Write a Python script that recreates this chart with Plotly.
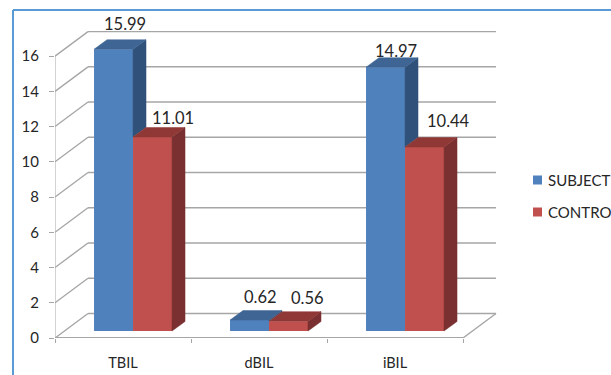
import plotly.graph_objects as go

categories = ["TBIL", "dBIL", "iBIL"]
subject = [15.99, 0.62, 14.97]
control = [11.01, 0.56, 10.44]
y_ticks = [0, 2, 4, 6, 8, 10, 12, 14, 16]

BLUE, BLUE_TOP, BLUE_SIDE = "#4F81BD", "#3E6594", "#30527A"
RED, RED_TOP, RED_SIDE = "#C0504D", "#8F3836", "#7A3030"
GRID = "#A6A6A6"
TEXT = "#262626"
FONT = "Lato"
W, H = 611, 375

# Plot area in pixels, and the pixel size of one axis unit
LEFT, RIGHT, TOP, BOTTOM = 55, 497, 31, 338
X_UNIT = 136.0
Y_UNIT = 17.62

# Pseudo-3D depth of the chart box and of the bars, in axis units
wall_dx, wall_dy = 33 / X_UNIT, 24.5 / Y_UNIT
bar_dx, bar_dy = 13 / X_UNIT, 9.5 / Y_UNIT
bar_base = 7 / Y_UNIT
bar_w = 39 / X_UNIT
bar_start = 0.287

fig = go.Figure()
cat_x = [i + 0.5 for i in range(len(categories))]


def add_front(name, values, offset, color):
    fig.add_trace(go.Bar(
        x=cat_x, y=values, base=bar_base, width=bar_w, offset=offset,
        name=name, marker=dict(color=color, line=dict(width=0)),
        showlegend=False, hoverinfo="skip",
    ))


def add_poly(xs, ys, color):
    fig.add_trace(go.Scatter(
        x=xs + xs[:1], y=ys + ys[:1], mode="lines", fill="toself",
        fillcolor=color, line=dict(width=0.5, color=color),
        showlegend=False, hoverinfo="skip",
    ))


add_front("SUBJECT", subject, bar_start - 0.5, BLUE)
add_front("CONTROL", control, bar_start - 0.5 + bar_w, RED)

for i, (s, c) in enumerate(zip(subject, control)):
    x0 = i + bar_start
    x1 = x0 + bar_w
    x2 = x1 + bar_w
    st = s + bar_base
    ct = c + bar_base
    # Blue side face stops where the red bar begins to hide it
    add_poly([x1, x1 + bar_dx, x1 + bar_dx, x1],
             [st, st + bar_dy, ct + bar_dy, ct], BLUE_SIDE)
    add_poly([x0, x0 + bar_dx, x1 + bar_dx, x1],
             [st, st + bar_dy, st + bar_dy, st], BLUE_TOP)
    add_poly([x2, x2 + bar_dx, x2 + bar_dx, x2],
             [ct, ct + bar_dy, bar_base + bar_dy, bar_base], RED_SIDE)
    add_poly([x1, x1 + bar_dx, x2 + bar_dx, x2],
             [ct, ct + bar_dy, ct + bar_dy, ct], RED_TOP)

# Back wall grid, the slanted side wall and the floor
shapes = []
n = len(categories)


def grid_line(x0, y0, x1, y1, width=1.4):
    shapes.append(dict(type="line", xref="x", yref="y", x0=x0, y0=y0, x1=x1, y1=y1,
                       layer="below", line=dict(color=GRID, width=width)))


for v in y_ticks:
    grid_line(0, v, wall_dx, v + wall_dy)
    grid_line(wall_dx, v + wall_dy, n + wall_dx, v + wall_dy)
grid_line(0, 0, 0, y_ticks[-1], 1)
grid_line(0, 0, n, 0, 1.8)
grid_line(n, 0, n + wall_dx, wall_dy)


def px_x(p):
    return (p - LEFT) / (RIGHT - LEFT)


def px_y(p):
    return (BOTTOM - p) / (BOTTOM - TOP)


# Outer frame of the chart
FRAME = "#5B9BD5"
for x0, y0, x1, y1 in [(13, 10, W, 10), (13, 10, 13, H)]:
    shapes.append(dict(type="line", xref="paper", yref="paper",
                       x0=px_x(x0), y0=px_y(y0), x1=px_x(x1), y1=px_y(y1),
                       layer="below", line=dict(color=FRAME, width=2)))

# Legend swatches beside their labels
legend_items = [("SUBJECT", BLUE, 180), ("CONTROL", RED, 212)]
annotations = []
for label, color, py in legend_items:
    shapes.append(dict(type="rect", xref="paper", yref="paper",
                       x0=px_x(533), x1=px_x(542), y0=px_y(py - 4.5), y1=px_y(py + 4.5),
                       fillcolor=color, line=dict(width=0)))
    annotations.append(dict(xref="paper", yref="paper", x=px_x(545.5), y=px_y(py),
                            text=label, showarrow=False, xanchor="left", yanchor="middle",
                            font=dict(family=FONT, size=15, color=TEXT)))

# Value labels, nudged off each bar's top edge (pixels)
subject_nudge = [(11, 25.6), (10.5, 23), (10.5, 16.7)]
control_nudge = [(20.5, 18.6), (18.5, 23), (23.5, 26.5)]
for i in range(n):
    for vals, start, nudge in ((subject, bar_start, subject_nudge),
                               (control, bar_start + bar_w, control_nudge)):
        annotations.append(dict(
            x=i + start + bar_w / 2, y=vals[i] + bar_base, xref="x", yref="y",
            text=f"{vals[i]:.2f}", showarrow=False, xanchor="center", yanchor="middle",
            xshift=nudge[i][0], yshift=nudge[i][1],
            font=dict(family=FONT, size=16.5, color=TEXT),
        ))

fig.update_layout(
    width=W, height=H, autosize=False,
    margin=dict(l=LEFT, r=W - RIGHT, t=TOP, b=H - BOTTOM),
    paper_bgcolor="white", plot_bgcolor="rgba(0,0,0,0)",
    barmode="overlay", showlegend=False,
    shapes=shapes, annotations=annotations,
    font=dict(family=FONT, size=14.5, color=TEXT),
    xaxis=dict(
        automargin=False,
        range=[0, (RIGHT - LEFT) / X_UNIT], tickmode="array", tickvals=cat_x, ticktext=categories,
        showgrid=False, zeroline=False, showline=False, ticks="", ticklabelstandoff=14,
        minor=dict(tickmode="array", tickvals=list(range(n + 1)), ticks="outside",
                   ticklen=4, tickcolor=GRID, tickwidth=1, showgrid=False),
        tickfont=dict(family=FONT, size=14.5, color=TEXT),
    ),
    yaxis=dict(
        automargin=False,
        range=[0, (BOTTOM - TOP) / Y_UNIT], tickmode="array", tickvals=y_ticks,
        showgrid=False, zeroline=False, showline=False, ticks="outside", ticklen=5,
        tickcolor=GRID, tickwidth=1, ticklabelstandoff=7,
        tickfont=dict(family=FONT, size=15, color=TEXT),
    ),
)

fig.write_html("out.html", config={"displayModeBar": False})
